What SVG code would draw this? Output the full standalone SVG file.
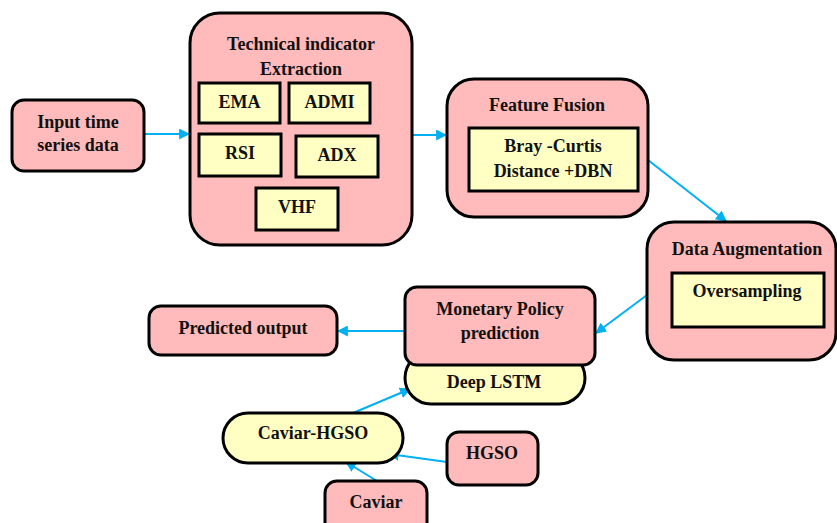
<svg xmlns="http://www.w3.org/2000/svg" width="837" height="523" viewBox="0 0 837 523">
<defs>
<marker id="ah" viewBox="0 0 10 10" refX="9" refY="5" markerWidth="11" markerHeight="11" markerUnits="userSpaceOnUse" orient="auto">
<path d="M0,0 L10,5 L0,10 z" fill="#00B0F0"/>
</marker>
</defs>
<style>
.pink{fill:#FFBBBB;stroke:#000;stroke-width:3}
.yel{fill:#FFFFC4;stroke:#000;stroke-width:3}
.t{font-family:"Liberation Serif","Times New Roman",serif;font-weight:bold;font-size:18px;fill:#111;text-anchor:middle;dominant-baseline:central}
.c{stroke:#00B0F0;stroke-width:2;fill:none;marker-end:url(#ah)}
</style>
<rect width="837" height="523" fill="#fff"/>
<g id="connectors">
<line class="c" x1="145" y1="134" x2="189" y2="134"/>
<line class="c" x1="413" y1="135" x2="446" y2="135"/>
<line class="c" x1="648" y1="160" x2="726" y2="221"/>
<line class="c" x1="647" y1="295" x2="596" y2="333"/>
<line class="c" x1="405" y1="331" x2="338" y2="331"/>
<line class="c" x1="353" y1="413" x2="410" y2="389"/>
<line class="c" x1="447" y1="462" x2="389" y2="454"/>
<line class="c" x1="377" y1="481" x2="346" y2="462"/>
</g>
<g id="input">
<rect class="pink" x="12" y="100" width="132" height="71" rx="12"/>
<text class="t" x="78" y="122">Input time</text>
<text class="t" x="78" y="145">series data</text>
</g>
<g id="tech">
<rect class="pink" x="190" y="13" width="222" height="232" rx="30"/>
<text class="t" x="301" y="44">Technical indicator</text>
<text class="t" x="301" y="69">Extraction</text>
</g>
<g id="ema">
<rect class="yel" x="199" y="83" width="81" height="40"/>
<text class="t" x="239.5" y="102">EMA</text>
</g>
<g id="admi">
<rect class="yel" x="289" y="83" width="81" height="40"/>
<text class="t" x="329.5" y="102">ADMI</text>
</g>
<g id="rsi">
<rect class="yel" x="199" y="134" width="82" height="42"/>
<text class="t" x="240" y="153">RSI</text>
</g>
<g id="adx">
<rect class="yel" x="296" y="136" width="82" height="41"/>
<text class="t" x="337" y="155">ADX</text>
</g>
<g id="vhf">
<rect class="yel" x="256" y="188" width="82" height="42"/>
<text class="t" x="297" y="207">VHF</text>
</g>
<g id="fusion">
<rect class="pink" x="447" y="79" width="201" height="138" rx="27"/>
<text class="t" x="547" y="105">Feature Fusion</text>
<rect class="yel" x="469" y="128" width="169" height="63"/>
<text class="t" x="553" y="146">Bray -Curtis</text>
<text class="t" x="553" y="171">Distance +DBN</text>
</g>
<g id="augment">
<rect class="pink" x="647" y="222" width="189" height="138" rx="27"/>
<text class="t" x="747" y="249">Data Augmentation</text>
<rect class="yel" x="672" y="273" width="152" height="54"/>
<text class="t" x="747" y="291">Oversampling</text>
</g>
<g id="lstm">
<rect class="yel" x="405" y="352" width="180" height="52" rx="26"/>
<text class="t" x="494" y="382">Deep LSTM</text>
</g>
<g id="monetary">
<rect class="pink" x="405" y="287" width="190" height="78" rx="12"/>
<text class="t" x="500" y="309">Monetary Policy</text>
<text class="t" x="500" y="333">prediction</text>
</g>
<g id="predicted">
<rect class="pink" x="149" y="306" width="188" height="49" rx="12"/>
<text class="t" x="243" y="328">Predicted output</text>
</g>
<g id="caviarhgso">
<rect class="yel" x="223" y="413" width="180" height="50" rx="25"/>
<text class="t" x="313" y="433">Caviar-HGSO</text>
</g>
<g id="hgso">
<rect class="pink" x="447" y="432" width="91" height="53" rx="12"/>
<text class="t" x="492" y="453">HGSO</text>
</g>
<g id="caviar">
<rect class="pink" x="325" y="481" width="102" height="60" rx="12"/>
<text class="t" x="376" y="502">Caviar</text>
</g>
</svg>
